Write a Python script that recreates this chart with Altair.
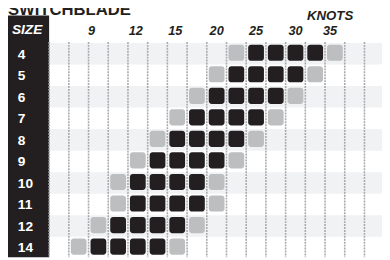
import altair as alt
import pandas as pd

# ---- data ----
sizes = ["4", "5", "6", "7", "8", "9", "10", "11", "12", "14"]
black_start = [10, 9, 8, 7, 6, 5, 4, 4, 3, 2]   # first full-power column per size
black_end = [13, 12, 11, 10, 9, 8, 7, 7, 6, 5]  # last full-power column per size
knot_labels = ["9", "12", "15", "20", "25", "30", "35"]
knot_label_cols = [1.65, 3.9, 5.9, 8.0, 10.0, 12.0, 13.75]
grid_bounds = [c + 0.5 for c in range(-1, 16)]
title_text = "SWITCHBLADE"
header_text = "SIZE"
axis_title = "KNOTS"

# ---- layout (page has an 8px margin; positions below are page px minus 8) ----
OFF = 8
W, H = 390 - OFF, 260 - OFF
BLACK = "#231f20"
GREY = "#bcbec0"
BAND = "#f1f2f4"
FONT = "Liberation Sans"
COLW = 20.13

rows = list(range(len(sizes)))
band_df = pd.DataFrame({"row": rows, "size": sizes})

cell_rows = []
for i, (bs, be) in enumerate(zip(black_start, black_end)):
    for c in range(bs - 1, be + 2):
        kind = "gray" if c in (bs - 1, be + 1) else "black"
        cell_rows.append({"row": i, "col": c, "kind": kind})
cell_df = pd.DataFrame(cell_rows)

knot_df = pd.DataFrame({"label": knot_labels, "col": knot_label_cols})
grid_df = pd.DataFrame({"b": grid_bounds})
one = pd.DataFrame({"t": [0]})

xs = alt.Scale(domain=[(OFF - 50) / COLW - 0.5, (390 - 50) / COLW - 0.5], nice=False, zero=False)
ys = alt.Scale(domain=[(OFF - 52) / 22, (260 - 52) / 22], nice=False, zero=False, reverse=True)

bands = (
    alt.Chart(band_df)
    .transform_filter("datum.row % 2 == 0")
    .transform_calculate(y1="datum.row - 0.5", y2="datum.row + 0.5")
    .mark_rect(color=BAND)
    .encode(
        x=alt.value(50 - OFF),
        x2=alt.value(W),
        y=alt.Y("y1:Q", scale=ys, axis=None),
        y2="y2:Q",
    )
)

black_col = (
    alt.Chart(one)
    .mark_rect(color=BLACK)
    .encode(x=alt.value(0), x2=alt.value(50 - OFF), y=alt.value(13 - OFF), y2=alt.value(H))
)

grid = (
    alt.Chart(grid_df)
    .mark_rule(color="#a7a9ac", strokeDash=[2, 1], strokeWidth=1.6)
    .encode(x=alt.X("b:Q", scale=xs, axis=None), y=alt.value(40 - OFF), y2=alt.value(H))
)

cells = (
    alt.Chart(cell_df)
    .transform_calculate(
        x1="datum.col - 0.4", x2="datum.col + 0.4",
        y1="datum.row - 0.42", y2="datum.row + 0.33",
    )
    .mark_rect(cornerRadius=3)
    .encode(
        x=alt.X("x1:Q", scale=xs, axis=None),
        x2="x2:Q",
        y=alt.Y("y1:Q", scale=ys, axis=None),
        y2="y2:Q",
        color=alt.Color("kind:N", scale=alt.Scale(domain=["black", "gray"], range=[BLACK, GREY]), legend=None),
    )
)

row_labels = (
    alt.Chart(band_df)
    .mark_text(align="left", baseline="middle", color="white", fontSize=14,
               fontWeight="bold", font=FONT, dy=1)
    .encode(x=alt.value(18 - OFF), y=alt.Y("row:Q", scale=ys, axis=None), text="size:N")
)

size_hdr = (
    alt.Chart(pd.DataFrame({"t": [header_text]}))
    .mark_text(align="left", baseline="alphabetic", color="white", fontSize=14,
               fontWeight="bold", fontStyle="italic", font=FONT)
    .encode(x=alt.value(12 - OFF), y=alt.value(32 - OFF), text="t:N")
)

knots = (
    alt.Chart(knot_df)
    .mark_text(align="center", baseline="alphabetic", color=BLACK, fontSize=13,
               fontWeight="bold", fontStyle="italic", font=FONT)
    .encode(x=alt.X("col:Q", scale=xs, axis=None), y=alt.value(33 - OFF), text="label:N")
)

knots_title = (
    alt.Chart(pd.DataFrame({"t": [axis_title]}))
    .mark_text(align="center", baseline="alphabetic", color=BLACK, fontSize=13.5,
               fontWeight="bold", fontStyle="italic", font=FONT)
    .encode(x=alt.value(337 - OFF), y=alt.value(17.5 - OFF), text="t:N")
)

title = (
    alt.Chart(pd.DataFrame({"t": [title_text]}))
    .mark_text(align="left", baseline="alphabetic", color=BLACK, fontSize=17,
               fontWeight="bold", font=FONT)
    .encode(x=alt.value(0), y=alt.value(4), text="t:N")
)

chart = (
    alt.layer(bands, black_col, grid, cells, row_labels, size_hdr, knots, knots_title, title)
    .properties(width=W, height=H, padding=0, autosize="none")
    .configure_view(strokeWidth=0)
)

chart.save("out.html", embed_options={"renderer": "svg", "actions": False})
